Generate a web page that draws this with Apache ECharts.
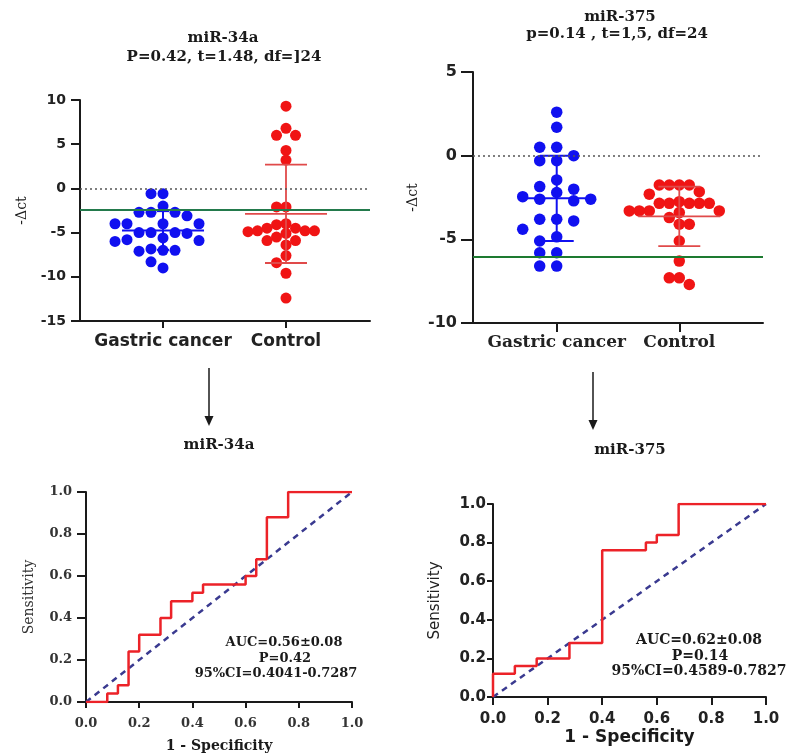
<!DOCTYPE html>
<html><head><meta charset="utf-8">
<script src="https://cdn.jsdelivr.net/npm/echarts@6/dist/echarts.min.js"></script>
<style>html,body{margin:0;padding:0;background:#fff}#c{width:801px;height:755px}</style>
</head><body><div id="c"></div>
<script>
// ---------------- data ----------------
const groups = ['Gastric cancer', 'Control'];
const groupPos = [1, 2];

const miR34a_gastric = [-0.6, -0.6, -2.0, -2.7, -2.7, -2.7, -3.1, -4.0, -4.0, -4.0, -4.0, -5.0, -5.1, -5.0, -5.0,
  -5.9, -5.8, -6.0, -5.6, -6.85, -7.0, -7.1, -7.0, -8.3, -9.0];
const miR34a_control = [9.3, 6.8, 6.0, 6.0, 4.3, 3.2, -2.1, -2.1, -4.1, -4.0, -4.9, -4.8, -4.5, -4.8, -4.8, -4.5,
  -5.1, -5.5, -5.9, -5.9, -6.4, -7.6, -8.4, -9.6, -12.4];
const miR375_gastric = [2.6, 1.7, 0.5, 0.5, 0.0, -0.3, -0.3, -1.45, -1.85, -2.0, -2.2, -2.45, -2.6, -2.7, -2.6,
  -3.8, -3.9, -3.8, -4.4, -4.85, -5.1, -5.8, -5.8, -6.6, -6.6];
const miR375_control = [-1.75, -1.75, -1.75, -1.75, -2.15, -2.3, -2.85, -2.75, -2.85, -2.85, -2.85, -2.85,
  -3.3, -3.3, -3.3, -3.3, -3.4, -3.7, -4.1, -4.1, -5.1, -6.3, -7.3, -7.3, -7.7];

const cutoff_miR34a = -2.45;
const cutoff_miR375 = -6.07;

const roc34a_fpr = [0, 0.08, 0.08, 0.12, 0.12, 0.16, 0.16, 0.20, 0.20, 0.28, 0.28, 0.32, 0.32, 0.40, 0.40, 0.44, 0.44, 0.60, 0.60, 0.64, 0.64, 0.68, 0.68, 0.76, 0.76, 1.00];
const roc34a_tpr = [0, 0, 0.04, 0.04, 0.08, 0.08, 0.24, 0.24, 0.32, 0.32, 0.40, 0.40, 0.48, 0.48, 0.52, 0.52, 0.56, 0.56, 0.60, 0.60, 0.68, 0.68, 0.88, 0.88, 1.00, 1.00];
const roc375_fpr = [0, 0, 0.08, 0.08, 0.16, 0.16, 0.28, 0.28, 0.40, 0.40, 0.56, 0.56, 0.60, 0.60, 0.68, 0.68, 1.00];
const roc375_tpr = [0, 0.12, 0.12, 0.16, 0.16, 0.20, 0.20, 0.28, 0.28, 0.76, 0.76, 0.80, 0.80, 0.84, 0.84, 1.00, 1.00];
const chanceLine = [[0, 0], [1, 1]];

const topTitles34a = ['miR-34a', 'P=0.42, t=1.48, df=]24'];
const topTitles375 = ['miR-375', 'p=0.14 , t=1,5, df=24'];
const auc34a = ['AUC=0.56\u00b10.08', 'P=0.42', '95%CI=0.4041-0.7287'];
const auc375 = ['AUC=0.62\u00b10.08', 'P=0.14', '95%CI=0.4589-0.7827'];

// ---------------- styles ----------------
const SERIF = "'DejaVu Serif', 'Liberation Serif', serif";
const SANS = "'DejaVu Sans', 'Liberation Sans', sans-serif";
const INK = '#1a1a1a';
const BLUE = '#1010f0';
const RED = '#f01414';

function mean(a) { return a.reduce((s, v) => s + v, 0) / a.length; }
function sd(a) { const m = mean(a); return Math.sqrt(a.reduce((s, v) => s + (v - m) * (v - m), 0) / (a.length - 1)); }

const chart = echarts.init(document.getElementById('c'));

function line(w) { return { show: true, onZero: false, lineStyle: { color: INK, width: w } }; }

function meanSdRender(hw, hc, color, lw) {
  return function (params, api) {
    const x = api.value(0), m = api.value(1), s = api.value(2);
    const pm = api.coord([x, m]), pt = api.coord([x, m + s]), pb = api.coord([x, m - s]);
    const st = { stroke: color, lineWidth: lw };
    return { type: 'group', children: [
      { type: 'line', shape: { x1: pm[0] - hw, y1: pm[1], x2: pm[0] + hw, y2: pm[1] }, style: st },
      { type: 'line', shape: { x1: pt[0], y1: pt[1], x2: pb[0], y2: pb[1] }, style: st },
      { type: 'line', shape: { x1: pt[0] - hc, y1: pt[1], x2: pt[0] + hc, y2: pt[1] }, style: st },
      { type: 'line', shape: { x1: pb[0] - hc, y1: pb[1], x2: pb[0] + hc, y2: pb[1] }, style: st }
    ] };
  };
}

function refLines(green) {
  return {
    silent: true, symbol: 'none', label: { show: false },
    data: [
      { yAxis: 0, lineStyle: { type: [2, 3], color: '#555', width: 1.5 } },
      { yAxis: green.v, lineStyle: { type: 'solid', color: green.c, width: 2 } }
    ]
  };
}

function text(t, x, y, font, color) {
  return { type: 'text', x: x, y: y, silent: true,
    style: { text: t, font: font, fill: color || INK, align: 'center', verticalAlign: 'middle', textAlign: 'center', textVerticalAlign: 'middle' } };
}

const graphics = [
  text(topTitles34a[0], 223, 38, 'bold 15px ' + SERIF),
  text(topTitles34a[1], 224, 57, 'bold 15px ' + SERIF),
  text(topTitles375[0], 620, 17, 'bold 15px ' + SERIF),
  text(topTitles375[1], 617, 34, 'bold 15px ' + SERIF),
  text('miR-34a', 219, 445, 'bold 15px ' + SERIF),
  text('miR-375', 630, 450, 'bold 15px ' + SERIF),
  text(auc34a[0], 284, 643, 'bold 13px ' + SERIF),
  text(auc34a[1], 285, 659, 'bold 13px ' + SERIF),
  text(auc34a[2], 276, 674, 'bold 13px ' + SERIF),
  text(auc375[0], 699, 640, 'bold 14px ' + SERIF),
  text(auc375[1], 700, 656, 'bold 14px ' + SERIF),
  text(auc375[2], 699, 671, 'bold 14px ' + SERIF),
  { type: 'line', silent: true, shape: { x1: 209, y1: 368, x2: 209, y2: 418 }, style: { stroke: INK, lineWidth: 1.5 } },
  { type: 'polygon', silent: true, shape: { points: [[204.5, 416], [213.5, 416], [209, 426]] }, style: { fill: INK } },
  { type: 'line', silent: true, shape: { x1: 593, y1: 372, x2: 593, y2: 422 }, style: { stroke: INK, lineWidth: 1.5 } },
  { type: 'polygon', silent: true, shape: { points: [[588.5, 420], [597.5, 420], [593, 430]] }, style: { fill: INK } }
];

const catLabel = v => groups[groupPos.indexOf(Math.round(v))] || '';

const option = {
  backgroundColor: '#fff',
  animation: false,
  graphic: graphics,
  grid: [
    { left: 80, top: 100, width: 290, height: 221 },
    { left: 473, top: 72, width: 290, height: 251 },
    { left: 86, top: 492, width: 266, height: 210 },
    { left: 493, top: 504, width: 273, height: 193 }
  ],
  xAxis: [
    { gridIndex: 0, type: 'value', min: 0.325, max: 2.683, axisLine: line(2), splitLine: { show: false },
      axisTick: { show: true, customValues: groupPos, length: 7, lineStyle: { color: INK, width: 2 } },
      axisLabel: { customValues: groupPos, formatter: catLabel, fontFamily: SANS, fontWeight: 'bold', fontSize: 17, color: '#222', margin: 12 } },
    { gridIndex: 1, type: 'value', min: 0.317, max: 2.683, axisLine: line(2), splitLine: { show: false },
      axisTick: { show: true, customValues: groupPos, length: 9, lineStyle: { color: INK, width: 2 } },
      axisLabel: { customValues: groupPos, formatter: catLabel, fontFamily: SERIF, fontWeight: 'bold', fontSize: 17, color: '#222', margin: 11 } },
    { gridIndex: 2, type: 'value', min: 0, max: 1, interval: 0.2, axisLine: line(2), splitLine: { show: false },
      axisTick: { show: true, length: 6, lineStyle: { color: INK, width: 2 } },
      axisLabel: { formatter: v => v.toFixed(1), fontFamily: SERIF, fontWeight: 'bold', fontSize: 13, color: '#333', margin: 15 },
      name: '1 - Specificity', nameLocation: 'middle', nameGap: 37,
      nameTextStyle: { fontFamily: SERIF, fontWeight: 'bold', fontSize: 14, color: INK } },
    { gridIndex: 3, type: 'value', min: 0, max: 1, interval: 0.2, axisLine: line(2), splitLine: { show: false },
      axisTick: { show: true, length: 8, lineStyle: { color: INK, width: 2 } },
      axisLabel: { formatter: v => v.toFixed(1), fontFamily: SANS, fontWeight: 'bold', fontSize: 15, color: '#222', margin: 15 },
      name: '1 - Specificity', nameLocation: 'middle', nameGap: 32,
      nameTextStyle: { fontFamily: SANS, fontWeight: 'bold', fontSize: 17, color: INK } }
  ],
  yAxis: [
    { gridIndex: 0, type: 'value', min: -15, max: 10, interval: 5, axisLine: line(2), splitLine: { show: false },
      axisTick: { show: true, length: 9, lineStyle: { color: INK, width: 2 } },
      axisLabel: { fontFamily: SANS, fontWeight: 'bold', fontSize: 14, color: '#222', margin: 14 },
      name: '-\u0394ct', nameLocation: 'middle', nameGap: 51, nameRotate: 90,
      nameTextStyle: { fontFamily: SERIF, fontSize: 14, color: INK } },
    { gridIndex: 1, type: 'value', min: -10, max: 5, interval: 5, axisLine: line(2), splitLine: { show: false },
      axisTick: { show: true, length: 12, lineStyle: { color: INK, width: 2 } },
      axisLabel: { fontFamily: SANS, fontWeight: 'bold', fontSize: 16, color: '#222', margin: 16 },
      name: '-\u0394ct', nameLocation: 'middle', nameGap: 53, nameRotate: 90,
      nameTextStyle: { fontFamily: SERIF, fontSize: 14, color: INK } },
    { gridIndex: 2, type: 'value', min: 0, max: 1, interval: 0.2, axisLine: line(2), splitLine: { show: false },
      axisTick: { show: true, length: 9, lineStyle: { color: INK, width: 2 } },
      axisLabel: { formatter: v => v.toFixed(1), fontFamily: SERIF, fontWeight: 'bold', fontSize: 13, color: '#333', margin: 14 },
      name: 'Sensitivity', nameLocation: 'middle', nameGap: 50, nameRotate: 90,
      nameTextStyle: { fontFamily: SERIF, fontSize: 14, color: '#333' } },
    { gridIndex: 3, type: 'value', min: 0, max: 1, interval: 0.2, axisLine: line(2), splitLine: { show: false },
      axisTick: { show: true, length: 6, lineStyle: { color: INK, width: 2 } },
      axisLabel: { formatter: v => v.toFixed(1), fontFamily: SANS, fontWeight: 'bold', fontSize: 15, color: '#222', margin: 7 },
      name: 'Sensitivity', nameLocation: 'middle', nameGap: 50, nameRotate: 90,
      nameTextStyle: { fontFamily: SANS, fontSize: 15, color: '#222' } }
  ],
  series: [
    { id: 'a_g', type: 'scatter', xAxisIndex: 0, yAxisIndex: 0, symbolSize: 11, itemStyle: { color: BLUE, opacity: 1 },
      data: miR34a_gastric.map(v => [groupPos[0], v]), z: 3,
      markLine: refLines({ v: cutoff_miR34a, c: '#237a4c' }) },
    { id: 'a_c', type: 'scatter', xAxisIndex: 0, yAxisIndex: 0, symbolSize: 11, itemStyle: { color: RED, opacity: 1 },
      data: miR34a_control.map(v => [groupPos[1], v]), z: 3 },
    { type: 'custom', xAxisIndex: 0, yAxisIndex: 0, z: 4, renderItem: meanSdRender(41, 6, BLUE, 2),
      data: [[groupPos[0], mean(miR34a_gastric), sd(miR34a_gastric)]], encode: { x: 0, y: 1 } },
    { type: 'custom', xAxisIndex: 0, yAxisIndex: 0, z: 4, renderItem: meanSdRender(41, 21, '#e04a4a', 1.8),
      data: [[groupPos[1], mean(miR34a_control), sd(miR34a_control)]], encode: { x: 0, y: 1 } },

    { id: 'b_g', type: 'scatter', xAxisIndex: 1, yAxisIndex: 1, symbolSize: 11.5, itemStyle: { color: BLUE, opacity: 1 },
      data: miR375_gastric.map(v => [groupPos[0], v]), z: 3,
      markLine: refLines({ v: cutoff_miR375, c: '#1d7a30' }) },
    { id: 'b_c', type: 'scatter', xAxisIndex: 1, yAxisIndex: 1, symbolSize: 11.5, itemStyle: { color: RED, opacity: 1 },
      data: miR375_control.map(v => [groupPos[1], v]), z: 3 },
    { type: 'custom', xAxisIndex: 1, yAxisIndex: 1, z: 4, renderItem: meanSdRender(37, 17, BLUE, 2),
      data: [[groupPos[0], mean(miR375_gastric), sd(miR375_gastric)]], encode: { x: 0, y: 1 } },
    { type: 'custom', xAxisIndex: 1, yAxisIndex: 1, z: 4, renderItem: meanSdRender(41, 21, '#e04a4a', 1.8),
      data: [[groupPos[1], mean(miR375_control), sd(miR375_control)]], encode: { x: 0, y: 1 } },

    { type: 'line', xAxisIndex: 2, yAxisIndex: 2, data: chanceLine, showSymbol: false, z: 2,
      lineStyle: { color: '#3a3a90', width: 2.5, type: [6, 5] } },
    { type: 'line', xAxisIndex: 2, yAxisIndex: 2, data: roc34a_fpr.map((x, i) => [x, roc34a_tpr[i]]), showSymbol: false, z: 3,
      lineStyle: { color: '#ec2228', width: 2.5 } },
    { type: 'line', xAxisIndex: 3, yAxisIndex: 3, data: chanceLine, showSymbol: false, z: 2,
      lineStyle: { color: '#3a3a90', width: 2.5, type: [6, 5] } },
    { type: 'line', xAxisIndex: 3, yAxisIndex: 3, data: roc375_fpr.map((x, i) => [x, roc375_tpr[i]]), showSymbol: false, z: 3,
      lineStyle: { color: '#ec2228', width: 2.5 } }
  ]
};

chart.setOption(option);

// beeswarm layout computed from the values through the axis scales
function swarm(values, gridIndex, xCenter, spacing, thresh) {
  const toPx = p => chart.convertToPixel({ gridIndex: gridIndex }, p);
  const pxPerX = toPx([xCenter + 1, 0])[0] - toPx([xCenter, 0])[0];
  const pts = values.map((v, i) => ({ i: i, v: v, py: toPx([xCenter, v])[1], dx: 0 }));
  const order = pts.slice().sort((a, b) => a.py - b.py);
  const placed = [];
  order.forEach(p => {
    for (let k = 0; k < 80; k++) {
      const m = k === 0 ? 0 : (k % 2 === 1 ? -Math.ceil(k / 2) : k / 2);
      const dx = m * spacing;
      if (placed.every(q => Math.hypot(q.dx - dx, q.py - p.py) >= thresh - 1e-6)) { p.dx = dx; placed.push(p); break; }
    }
  });
  return pts.map(p => [xCenter + p.dx / pxPerX, p.v]);
}

chart.setOption({
  series: [
    { id: 'a_g', data: swarm(miR34a_gastric, 0, groupPos[0], 12, 11.5) },
    { id: 'a_c', data: swarm(miR34a_control, 0, groupPos[1], 9.5, 9.5) },
    { id: 'b_g', data: swarm(miR375_gastric, 1, groupPos[0], 17, 11.5) },
    { id: 'b_c', data: swarm(miR375_control, 1, groupPos[1], 10, 10) }
  ]
});
</script>
</body></html>
